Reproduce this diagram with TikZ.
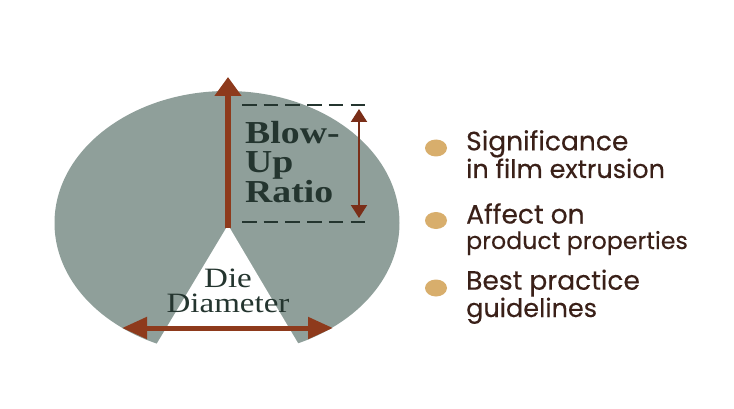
\documentclass[tikz,border=0pt]{standalone}
\usepackage{fontspec}
\usetikzlibrary{arrows.meta,shapes.geometric}
\newfontfamily\serifwide[FakeStretch=1.18]{Liberation Serif}
\newfontfamily\labelsans[FakeBold=0.25]{Poppins}
\newcommand{\headline}[1]{{\fontsize{26.5}{26}\selectfont #1}}
\definecolor{bodygrey}{HTML}{8F9F9A}
\definecolor{rust}{HTML}{8E3A1C}
\definecolor{deeprust}{HTML}{7A2E18}
\definecolor{inkgreen}{HTML}{24352F}
\definecolor{inkbrown}{HTML}{3A2018}
\definecolor{goldbullet}{HTML}{D8AE6C}
\tikzset{
  bubble/.style={fill=bodygrey,draw=none},
  bullet/.style={ellipse,fill=goldbullet,draw=none,minimum width=22pt,minimum height=17pt,inner sep=0pt},
  item/.style={anchor=base west,align=left,inner sep=0pt,text=inkbrown,font=\fontsize{25.5}{26}\selectfont\labelsans},
  guide/.style={draw=inkgreen,line width=1.4pt,dash pattern=on 14.5pt off 7.2pt},
  mainarrow/.style={draw=rust,line width=6pt,-{Triangle[length=19pt,width=26pt]}},
  wideline/.style={draw=rust,line width=5pt,{Triangle[length=25pt,width=21pt]}-{Triangle[length=25pt,width=21pt]}},
  thinarrow/.style={draw=deeprust,line width=2pt,{Triangle[length=13pt,width=16pt]}-{Triangle[length=13pt,width=16pt]}},
}
\begin{document}
\begin{tikzpicture}[x=1pt,y=-1pt]
\useasboundingbox (0,0) rectangle (734,409);
\fill[white] (0,0) rectangle (734,409);
\path[bubble] (227,223) ellipse [x radius=172.5pt,y radius=132pt];
\fill[white] (228,225) -- (147,360) -- (308,360) -- cycle;
\coordinate (stemfoot) at (228,228);
\coordinate (stemtip) at (228,77);
\coordinate (guideAl) at (242,105);
\coordinate (guideAr) at (367,105);
\coordinate (guideBl) at (242,222);
\coordinate (guideBr) at (367,222);
\coordinate (spanT) at (359,109);
\coordinate (spanB) at (359,218);
\coordinate (dieL) at (122,328);
\coordinate (dieR) at (333,328);
\draw[guide] (guideAl) -- (guideAr);
\draw[guide] (guideBl) -- (guideBr);
\draw[mainarrow] (stemfoot) -- (stemtip);
\draw[thinarrow] (spanT) -- (spanB);
\draw[wideline] (dieL) -- (dieR);
\node[anchor=base west,align=left,inner sep=0pt,text=inkgreen,font=\fontsize{32}{29}\selectfont\serifwide\bfseries] (blowup) at (245,203) {Blow-\\Up\\Ratio};
\node[anchor=base,align=center,inner sep=0pt,text=inkgreen,font=\fontsize{28}{25}\selectfont\serifwide] (die) at (228,312) {Die\\Diameter};
\node[bullet] (b1) at (436,148) {};
\node[bullet] (b2) at (436,220.5) {};
\node[bullet] (b3) at (436,288) {};
\node[item] (t1) at (466,178) {\headline{Significance}\\in film extrusion};
\node[item,font=\fontsize{23.7}{25.5}\selectfont\labelsans] (t2) at (466,249) {\headline{Affect on}\\product properties};
\node[item] (t3) at (466,317) {\headline{Best practice}\\guidelines};
\end{tikzpicture}
\end{document}
